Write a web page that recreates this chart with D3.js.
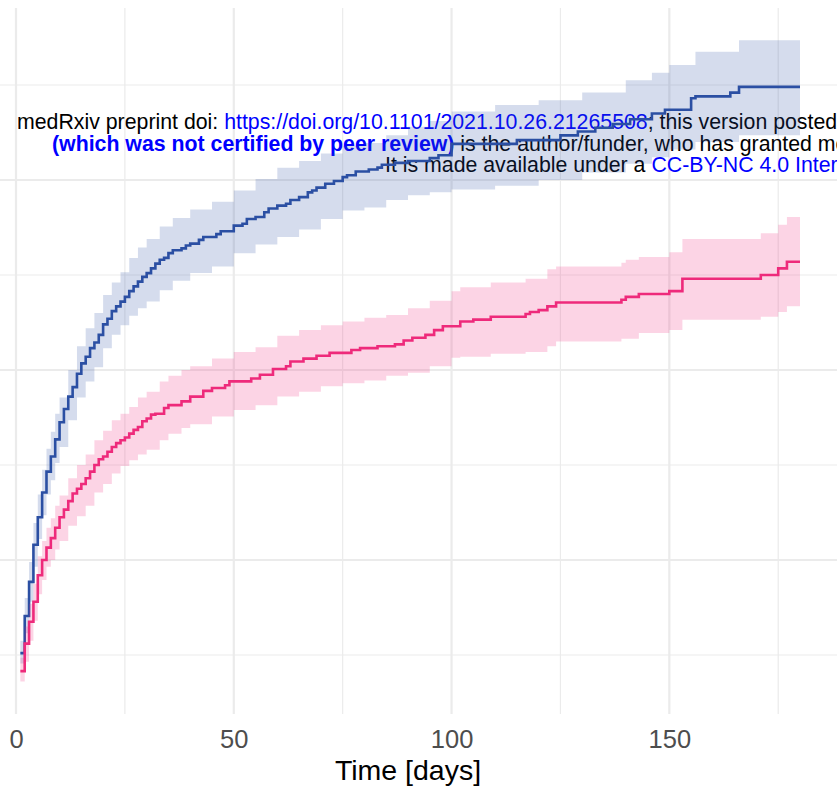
<!DOCTYPE html>
<html>
<head>
<meta charset="utf-8">
<script src="https://cdn.jsdelivr.net/npm/d3@7"></script>
<style>
  html, body { margin: 0; padding: 0; background: #ffffff; }
  svg { display: block; }
  text { font-family: "Liberation Sans", Arial, Helvetica, sans-serif; }
</style>
</head>
<body>
<div id="chart"></div>
<script>
// ---------------- DATA ----------------
const xTicks = [0, 50, 100, 150];
const xMinorTicks = [25, 75, 125, 175];
const yMajorTicks = [0.2, 0.4, 0.6];
const yMinorTicks = [0.1, 0.3, 0.5, 0.7];
const xTitle = "Time [days]";
const maxTime = 180;

// Blue group: step estimate
const blueTime = [1,2,3,4,5,6,7,8,9,10,11,12,13,14,15,16,17,18,19,20,21,22,23,24,25,26,27,28,29,30,31,32,33,34,35,36,38,39,40,42,43,46,47,50,52,53,55,57,58,60,62,63,65,67,68,69,71,73,75,76,78,81,83,84,87,90,95,97,100,115,125,129,133,137,141,146,149,155,156,164,166];
const blueEst  = [0.102,0.141,0.177,0.216,0.245,0.271,0.293,0.309,0.327,0.345,0.359,0.372,0.382,0.396,0.407,0.414,0.423,0.429,0.437,0.448,0.454,0.462,0.467,0.472,0.477,0.483,0.488,0.493,0.498,0.502,0.507,0.512,0.516,0.518,0.523,0.526,0.528,0.531,0.533,0.537,0.540,0.543,0.546,0.552,0.554,0.559,0.561,0.566,0.570,0.573,0.575,0.579,0.582,0.587,0.589,0.592,0.596,0.599,0.603,0.605,0.609,0.611,0.613,0.616,0.618,0.620,0.623,0.626,0.638,0.642,0.647,0.651,0.655,0.659,0.664,0.670,0.674,0.686,0.688,0.692,0.698];
// Blue group: confidence band
const blueBandTime  = [1,2,3,4,5,6,7,8,9,10,12,14,16,18,20,22,24,26,28,30,33,36,40,45,50,55,60,65,70,75,80,85,90,95,100,110,120,130,140,146,150,156,166];
const blueLower = [0.091,0.123,0.156,0.193,0.222,0.247,0.269,0.284,0.302,0.319,0.347,0.371,0.388,0.403,0.423,0.437,0.447,0.457,0.465,0.472,0.484,0.494,0.502,0.509,0.523,0.532,0.540,0.548,0.559,0.568,0.571,0.579,0.584,0.587,0.590,0.594,0.600,0.608,0.617,0.624,0.632,0.640,0.647];
const blueUpper = [0.115,0.160,0.198,0.239,0.269,0.295,0.317,0.335,0.354,0.371,0.400,0.425,0.444,0.460,0.479,0.492,0.503,0.518,0.529,0.538,0.551,0.560,0.569,0.577,0.589,0.601,0.613,0.620,0.628,0.636,0.639,0.647,0.656,0.662,0.672,0.679,0.684,0.692,0.705,0.713,0.721,0.735,0.747];

// Pink group: step estimate
const pinkTime = [1,2,3,4,5,6,7,8,9,10,11,12,13,14,15,16,17,18,19,20,21,22,23,24,25,26,27,28,29,30,31,32,34,35,38,40,43,45,48,49,54,56,59,62,63,66,69,72,77,79,83,87,89,91,94,96,98,102,105,109,117,118,120,122,124,139,140,143,150,153,171,175,177];
const pinkEst  = [0.083,0.112,0.135,0.156,0.184,0.200,0.213,0.223,0.234,0.245,0.253,0.262,0.270,0.275,0.280,0.286,0.293,0.300,0.306,0.309,0.314,0.319,0.323,0.326,0.329,0.333,0.337,0.340,0.346,0.349,0.353,0.354,0.360,0.363,0.367,0.372,0.378,0.381,0.384,0.388,0.391,0.395,0.401,0.404,0.409,0.412,0.415,0.418,0.421,0.423,0.425,0.427,0.431,0.434,0.437,0.442,0.446,0.451,0.453,0.456,0.459,0.461,0.463,0.467,0.471,0.474,0.477,0.480,0.483,0.496,0.500,0.507,0.514];
// Pink group: confidence band
const pinkBandTime = [1,2,3,4,5,6,7,8,9,10,12,14,16,18,20,22,24,26,28,30,33,35,38,40,45,50,55,60,65,70,75,80,85,90,95,100,102,109,117,122,124,139,140,143,150,153,171,175,177];
const pinkLower = [0.072,0.093,0.115,0.136,0.164,0.179,0.193,0.200,0.211,0.220,0.236,0.246,0.257,0.271,0.280,0.291,0.299,0.305,0.311,0.316,0.326,0.333,0.339,0.343,0.351,0.358,0.363,0.372,0.377,0.383,0.386,0.389,0.394,0.397,0.404,0.413,0.414,0.417,0.419,0.425,0.430,0.433,0.433,0.439,0.442,0.453,0.456,0.461,0.467];
const pinkUpper = [0.097,0.130,0.154,0.175,0.204,0.220,0.234,0.244,0.257,0.268,0.286,0.300,0.311,0.326,0.336,0.347,0.354,0.361,0.371,0.377,0.388,0.394,0.400,0.404,0.412,0.419,0.424,0.436,0.442,0.447,0.451,0.455,0.458,0.465,0.473,0.483,0.487,0.492,0.496,0.506,0.509,0.513,0.516,0.519,0.524,0.538,0.544,0.553,0.561];

// Overlay text (medRxiv header)
const headerLines = [
  [{t:"medRxiv preprint doi: ", c:"#000000"}, {t:"https://doi.org/10.1101/2021.10.26.21265508", c:"#0000ff"}, {t:"; this version posted", c:"#000000"}],
  [{t:"(which was not certified by peer review)", c:"#0000ff", b:true}, {t:" is the author/funder, who has granted medRxiv a license to display the preprint in perpetuity.", c:"#000000"}],
  [{t:"It is made available under a ", c:"#000000"}, {t:"CC-BY-NC 4.0 International license", c:"#0000ff"}]
];

// ---------------- CHART ----------------
const W = 837, H = 794;
const svg = d3.select("#chart").append("svg").attr("width", W).attr("height", H);
svg.append("rect").attr("width", W).attr("height", H).attr("fill", "#ffffff");

const x = d3.scaleLinear().domain([0, 180]).range([16, 800]);
const y = d3.scaleLinear().domain([0.2, 0.6]).range([560, 180]);
const panelTop = 8, panelBottom = 714;

const grid = svg.append("g");
yMinorTicks.forEach(v => grid.append("line").attr("x1", 0).attr("x2", W).attr("y1", y(v)).attr("y2", y(v))
  .attr("stroke", "#ebebeb").attr("stroke-width", 1.2));
xMinorTicks.forEach(v => grid.append("line").attr("x1", x(v)).attr("x2", x(v)).attr("y1", panelTop).attr("y2", panelBottom)
  .attr("stroke", "#ebebeb").attr("stroke-width", 1.2));
yMajorTicks.forEach(v => grid.append("line").attr("x1", 0).attr("x2", W).attr("y1", y(v)).attr("y2", y(v))
  .attr("stroke", "#ebebeb").attr("stroke-width", 2.2));
xTicks.forEach(v => grid.append("line").attr("x1", x(v)).attr("x2", x(v)).attr("y1", panelTop).attr("y2", panelBottom)
  .attr("stroke", "#ebebeb").attr("stroke-width", 2.2));

// header text
const hdr = svg.append("g").attr("font-size", 21.3);
const hdrPos = [[17, 129], [52, 151], [385, 172]];
headerLines.forEach((parts, i) => {
  const t = hdr.append("text").attr("x", hdrPos[i][0]).attr("y", hdrPos[i][1]);
  parts.forEach(p => t.append("tspan").text(p.t).attr("fill", p.c).attr("font-weight", p.b ? "bold" : "normal"));
});

function series(times, est, bandT, lo, hi, color) {
  const band = bandT.map((t, i) => ({t, lo: lo[i], hi: hi[i]}));
  band.push({t: maxTime, lo: lo[lo.length - 1], hi: hi[hi.length - 1]});
  const pts = times.map((t, i) => ({t, v: est[i]}));
  pts.push({t: maxTime, v: est[est.length - 1]});
  svg.append("path").datum(band)
    .attr("d", d3.area().curve(d3.curveStepAfter).x(d => x(d.t)).y0(d => y(d.lo)).y1(d => y(d.hi)))
    .attr("fill", color).attr("fill-opacity", 0.2);
  svg.append("path").datum(pts)
    .attr("d", d3.line().curve(d3.curveStepAfter).x(d => x(d.t)).y(d => y(d.v)))
    .attr("fill", "none").attr("stroke", color).attr("stroke-width", 2.6);
}
series(blueTime, blueEst, blueBandTime, blueLower, blueUpper, "#2B4FA3");
series(pinkTime, pinkEst, pinkBandTime, pinkLower, pinkUpper, "#EE2A7B");

// x axis
const xAxis = d3.axisBottom(x).tickValues(xTicks).tickSize(0).tickPadding(0).tickFormat(d3.format("d"));
const ax = svg.append("g").attr("transform", `translate(0, ${panelBottom})`).call(xAxis);
ax.select(".domain").remove();
ax.selectAll("text").attr("font-size", 25.5).attr("fill", "#4d4d4d").attr("dy", null).attr("y", 34)
  .attr("font-family", "'Liberation Sans', Arial, sans-serif");

svg.append("text").attr("x", x(90)).attr("y", 780).attr("text-anchor", "middle")
  .attr("font-size", 28.5).attr("fill", "#000000").text(xTitle);
</script>
</body>
</html>
